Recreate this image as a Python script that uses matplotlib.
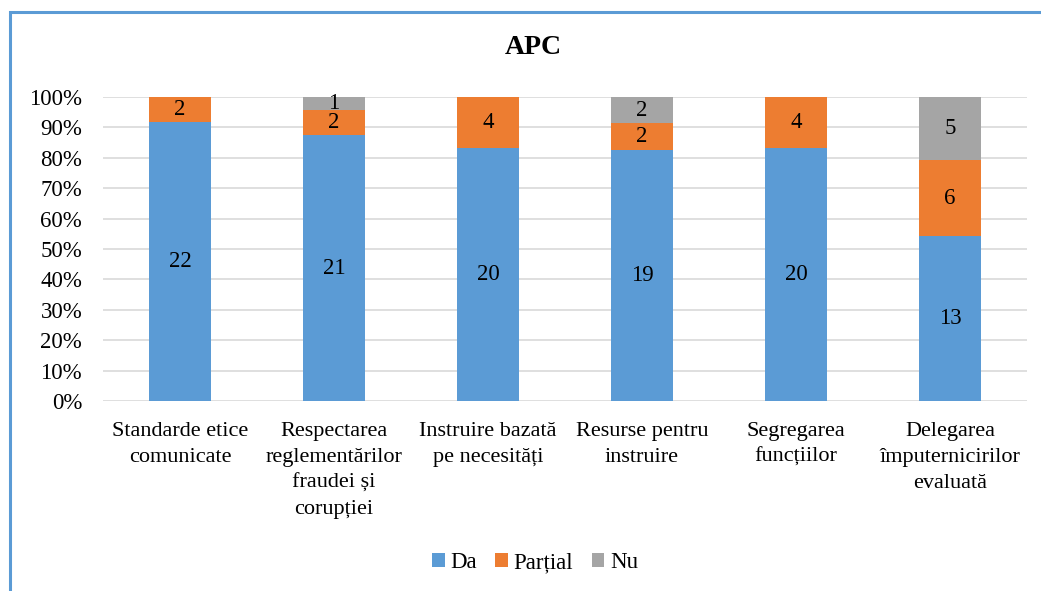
import numpy as np
import matplotlib
matplotlib.use("Agg")
import matplotlib.pyplot as plt
from matplotlib.patches import Rectangle
from matplotlib.ticker import PercentFormatter

plt.rcParams['font.family'] = ['Liberation Serif', 'DejaVu Serif']

categories = [
    "Standarde etice\ncomunicate",
    "Respectarea\nreglementărilor\nfraudei și\ncorupției",
    "Instruire bazată\npe necesități",
    "Resurse pentru\ninstruire",
    "Segregarea\nfuncțiilor",
    "Delegarea\nîmputernicirilor\nevaluată",
]
da = [22, 21, 20, 19, 20, 13]
partial = [2, 2, 4, 2, 4, 6]
nu = [0, 1, 0, 2, 0, 5]

series = [("Da", da, "#5b9bd5"), ("Parțial", partial, "#ed7d31"), ("Nu", nu, "#a5a5a5")]

W, H = 1041, 591
fig = plt.figure(figsize=(W / 100, H / 100), dpi=100)

# chart frame (runs off the right and bottom edges)
fig.patches.append(Rectangle((10 / W, -0.05), 1.1, (H - 12) / H + 0.05,
                             transform=fig.transFigure, fill=False,
                             edgecolor="#5b9bd5", linewidth=2.2))

ax = fig.add_axes([103 / W, (H - 401) / H, (1027 - 103) / W, (401 - 97) / H])

fs = 16
totals = np.array(da) + np.array(partial) + np.array(nu)
x = np.arange(len(categories))
bottom = np.zeros(len(categories))
for name, vals, col in series:
    vals = np.array(vals, dtype=float)
    pct = vals / totals * 100
    ax.bar(x, pct, 0.4, bottom=bottom, color=col, label=name, zorder=3)
    for i in range(len(x)):
        if vals[i] > 0:
            ax.text(x[i], bottom[i] + pct[i] / 2, f"{int(vals[i])}",
                    ha="center", va="center", fontsize=16.5, zorder=4)
    bottom += pct

ax.set_xlim(-0.5, len(categories) - 0.5)
ax.set_ylim(0, 100)
ax.set_yticks(np.arange(0, 101, 10))
ax.yaxis.set_major_formatter(PercentFormatter(decimals=0))
ax.grid(axis="y", color="#d9d9d9", linewidth=1.2, zorder=0)
for s in ax.spines.values():
    s.set_visible(False)
ax.tick_params(length=0, labelsize=16.5)
ax.tick_params(axis="y", pad=15)
ax.set_xticks(x)
ax.set_xticklabels(categories, fontsize=fs, linespacing=1.5)
ax.tick_params(axis="x", pad=15)

fig.text(533 / W, 1 - 47 / H, "APC", ha="center", va="center",
         fontsize=20, fontweight="bold")

fig.legend(loc="center", bbox_to_anchor=(535 / W, 1 - 563 / H), ncol=3,
           frameon=False, fontsize=16.5, handlelength=0.55, handleheight=0.55,
           handletextpad=0.25, columnspacing=0.8)

fig.savefig("out.png", dpi=100)
